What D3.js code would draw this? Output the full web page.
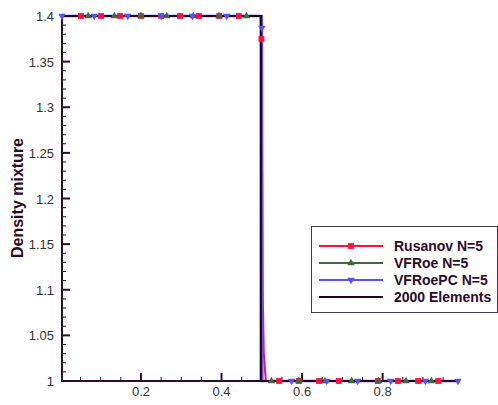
<!DOCTYPE html>
<html><head><meta charset="utf-8">
<script src="https://cdn.jsdelivr.net/npm/d3@7"></script>
<style>body{margin:0;background:#fff}svg{display:block}</style>
</head><body>
<svg id="c" width="498" height="405"></svg>
<script>
// ---- data ----
const xTicks = [0.2, 0.4, 0.6, 0.8];
const yTicks = [1, 1.05, 1.1, 1.15, 1.2, 1.25, 1.3, 1.35, 1.4];
const seriesNames = ["Rusanov N=5", "VFRoe N=5", "VFRoePC N=5", "2000 Elements"];
// line profiles [x, density]
const rusanovLine = [[0.004,1.4],[0.497,1.4],[0.499,1.375],[0.5005,1.25],[0.502,1.1],[0.505,1.03],[0.51,1.0],[0.992,1.0]];
const vfroeLine = [[0.004,1.4],[0.4978,1.4],[0.4985,1.2],[0.4995,1.0],[0.992,1.0]];
const vfroepcLine = [[0.004,1.4],[0.4995,1.4],[0.5,1.387],[0.5008,1.2],[0.5012,1.0],[0.992,1.0]];
const refLine = [[0.004,1.4],[0.4975,1.4],[0.4975,1.0],[0.992,1.0]];
// marker positions [x, density]
const rusanovMarks = [[0.051,1.4],[0.101,1.4],[0.148,1.4],[0.2,1.4],[0.25,1.4],[0.297,1.4],[0.344,1.4],[0.394,1.4],[0.443,1.4],[0.499,1.375],
  [0.543,1],[0.592,1],[0.642,1],[0.691,1],[0.788,1],[0.838,1],[0.888,1],[0.938,1]];
const vfroeMarks = [[0.069,1.4],[0.134,1.4],[0.2,1.4],[0.264,1.4],[0.33,1.4],[0.394,1.4],[0.462,1.4],
  [0.524,1],[0.592,1],[0.657,1],[0.723,1],[0.79,1],[0.858,1],[0.921,1]];
const vfroepcMarks = [[0.004,1.4],[0.084,1.4],[0.167,1.4],[0.25,1.4],[0.328,1.4],[0.413,1.4],[0.5,1.387],
  [0.574,1],[0.661,1],[0.738,1],[0.82,1],[0.906,1],[0.987,1]];

const colors = ["#ff1040", "#3d6b3d", "#5a50ff", "#22001c"];
const axisColor = "#2a0c26";
const font = "Liberation Sans, Arial, sans-serif";

const svg = d3.select("#c");
const x = d3.scaleLinear().domain([0.004, 0.992]).range([62, 460]);
const y = d3.scaleLinear().domain([1, 1.4]).range([381, 16]);

const g = svg.append("g");
const xMinor = d3.range(0.05, 0.99, 0.05).filter(v => !xTicks.some(t => Math.abs(t - v) < 1e-6));
const yMinor = d3.range(1.01, 1.4, 0.01).filter(v => !yTicks.some(t => Math.abs(t - v) < 1e-6));
g.selectAll(".xm").data(xMinor).join("line")
  .attr("x1", d => x(d)).attr("x2", d => x(d)).attr("y1", 381).attr("y2", 377)
  .attr("stroke", axisColor).attr("stroke-width", 1);
g.selectAll(".xM").data(xTicks).join("line")
  .attr("x1", d => x(d)).attr("x2", d => x(d)).attr("y1", 381).attr("y2", 373)
  .attr("stroke", axisColor).attr("stroke-width", 2);
g.selectAll(".ym").data(yMinor).join("line")
  .attr("x1", 62).attr("x2", 66).attr("y1", d => y(d)).attr("y2", d => y(d))
  .attr("stroke", axisColor).attr("stroke-width", 1);
g.selectAll(".yM").data(yTicks).join("line")
  .attr("x1", 62).attr("x2", 70).attr("y1", d => y(d)).attr("y2", d => y(d))
  .attr("stroke", axisColor).attr("stroke-width", 2);

g.selectAll(".xl").data(xTicks).join("text")
  .attr("x", d => x(d)).attr("y", 396).attr("text-anchor", "middle")
  .attr("font-family", font).attr("font-size", 13).attr("fill", "#333")
  .text(d => d3.format("")(d));
g.selectAll(".yl").data(yTicks).join("text")
  .attr("x", 54).attr("y", d => y(d) + 5).attr("text-anchor", "end")
  .attr("font-family", font).attr("font-size", 13).attr("fill", "#333")
  .text(d => d3.format("")(d));

svg.append("text").attr("transform", "translate(23,198) rotate(-90)")
  .attr("text-anchor", "middle").attr("font-family", font)
  .attr("font-size", 16).attr("font-weight", "bold").attr("fill", "#2a0c26").text("Density mixture");

// lines
const line = d3.line().x(d => x(d[0])).y(d => y(d[1]));
const lines = [rusanovLine, vfroeLine, vfroepcLine];
lines.forEach((l, i) => {
  svg.append("path").attr("d", line(l)).attr("fill", "none")
    .attr("stroke", colors[i]).attr("stroke-width", i === 2 ? 2.6 : 2);
});

// axis lines
g.append("line").attr("x1", 62).attr("x2", 460).attr("y1", 381).attr("y2", 381)
  .attr("stroke", axisColor).attr("stroke-width", 2);
g.append("line").attr("x1", 62).attr("x2", 62).attr("y1", 16).attr("y2", 382)
  .attr("stroke", axisColor).attr("stroke-width", 2);

svg.append("path").attr("d", line(refLine)).attr("fill", "none")
  .attr("stroke", colors[3]).attr("stroke-width", 2.2);

// markers
const sq = d3.symbol().type(d3.symbolSquare).size(34);
const tri = d3.symbol().type(d3.symbolTriangle).size(24);
const marks = [[rusanovMarks, sq, 0], [vfroeMarks, tri, 0], [vfroepcMarks, tri, 180]];
marks.forEach(([m, sym, rot], i) => {
  svg.append("g").selectAll("path").data(m).join("path")
    .attr("d", sym()).attr("fill", colors[i])
    .attr("transform", d => `translate(${x(d[0])},${y(d[1])}) rotate(${rot})`);
});

// legend
const lg = svg.append("g");
lg.append("rect").attr("x", 311.5).attr("y", 226.5).attr("width", 186).attr("height", 86)
  .attr("fill", "#fff").attr("stroke", "#4a3a48").attr("stroke-width", 1);
const rowsY = [246, 263, 280, 297];
const syms = [sq, tri, tri, null];
const rots = [0, 0, 180, 0];
seriesNames.forEach((name, i) => {
  lg.append("line").attr("x1", 319).attr("x2", 383).attr("y1", rowsY[i]).attr("y2", rowsY[i])
    .attr("stroke", colors[i]).attr("stroke-width", 2);
  if (syms[i]) lg.append("path").attr("d", syms[i]()).attr("fill", colors[i])
    .attr("transform", `translate(351,${rowsY[i]}) rotate(${rots[i]})`);
  lg.append("text").attr("x", 394).attr("y", rowsY[i] + 5)
    .attr("font-family", font).attr("font-size", 14)
    .attr("font-weight", "bold").attr("fill", "#2a0c26").text(name);
});
</script>
</body></html>
